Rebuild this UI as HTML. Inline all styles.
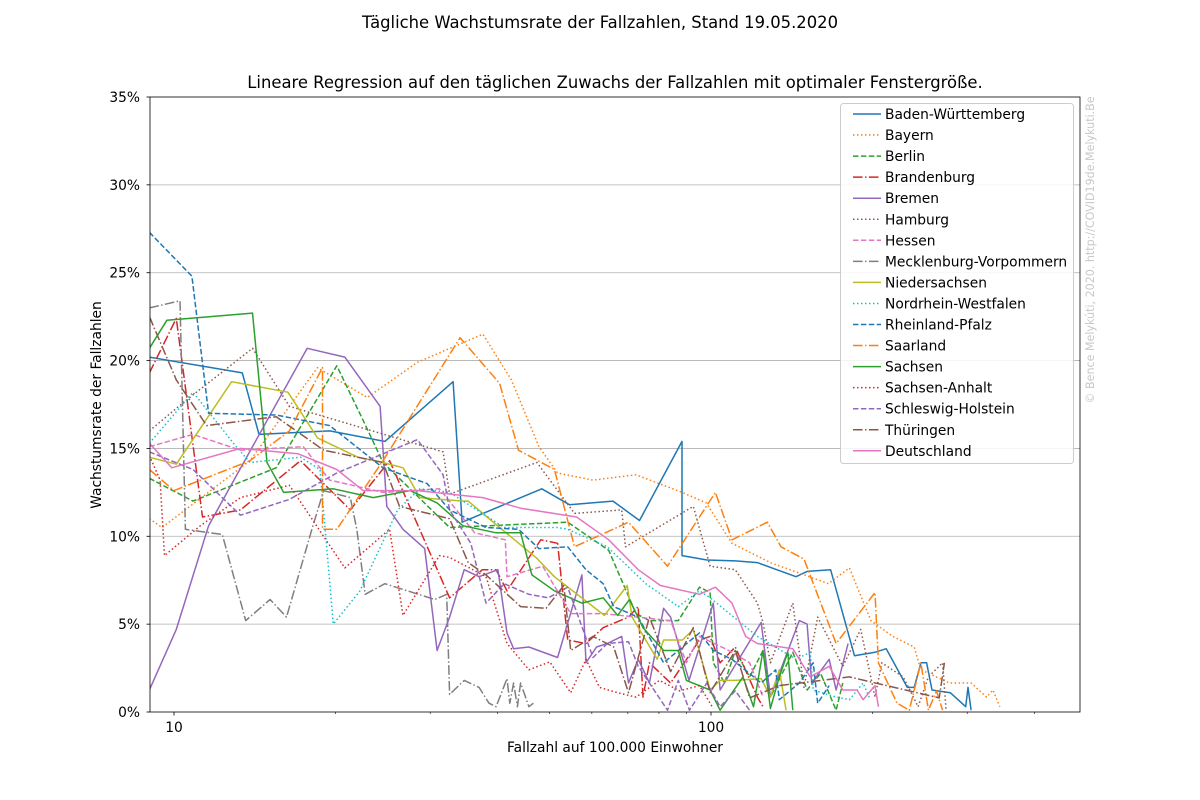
<!DOCTYPE html>
<html><head><meta charset="utf-8"><style>
body{margin:0;background:#fff;}
svg{display:block;font-family:"DejaVu Sans","Liberation Sans",sans-serif;}
</style></head><body>
<svg id="chart" width="1200" height="800" viewBox="0 0 1200 800" xmlns="http://www.w3.org/2000/svg">
<rect width="1200" height="800" fill="#fff"/>
<text x="600" y="28" font-size="16.4" text-anchor="middle">Tägliche Wachstumsrate der Fallzahlen, Stand 19.05.2020</text>
<text x="615" y="88" font-size="16.4" text-anchor="middle">Lineare Regression auf den täglichen Zuwachs der Fallzahlen mit optimaler Fenstergröße.</text>
<text x="615" y="752" font-size="13.8" text-anchor="middle">Fallzahl auf 100.000 Einwohner</text>
<text transform="translate(101,405) rotate(-90)" font-size="13.8" text-anchor="middle">Wachstumsrate der Fallzahlen</text>
<text transform="translate(1094,250) rotate(-90)" font-size="11.1" fill="#c8c8c8" text-anchor="middle">© Bence Melykúti, 2020. http://COVID19de.Melykuti.Be</text>
<defs><clipPath id="pc"><rect x="150" y="97" width="930" height="615"/></clipPath></defs>
<g id="grid"></g><g id="series" clip-path="url(#pc)"></g><g id="axes"></g><g id="legend"></g>
</svg>
<script>
const yTicks=[0,5,10,15,20,25,30,35];
const xMajor=[10,100];
const xMinor=[20,30,40,50,60,70,80,90,200,300,400];
const names=["Baden-Württemberg","Bayern","Berlin","Brandenburg","Bremen","Hamburg","Hessen","Mecklenburg-Vorpommern","Niedersachsen","Nordrhein-Westfalen","Rheinland-Pfalz","Saarland","Sachsen","Sachsen-Anhalt","Schleswig-Holstein","Thüringen","Deutschland"];
const sBW=[[9.0,20.2],[13.4,19.3],[14.4,15.8],[19.5,16.0],[24.7,15.4],[33.1,18.8],[34.4,10.8],[48.4,12.7],[54.5,11.8],[65.7,12.0],[73.6,10.9],[88.3,15.4],[88.3,8.9],[98.3,8.65],[111,8.6],[122,8.5],[144,7.7],[151,8.0],[167,8.1],[185,3.2],[202,3.4],[212,3.6],[232,1.4],[239,1.4],[246,2.8],[252,2.8],[258,1.25],[279,1.1],[298,0.3],[301,1.4],[305,0.1]];
const sBY=[[9.0,11.0],[9.5,10.5],[13.85,14.3],[18.5,19.6],[22.9,17.9],[28.4,19.9],[37.6,21.5],[42.5,18.9],[47.8,15.1],[51.8,13.6],[60.3,13.2],[72.5,13.5],[88.4,12.5],[98,11.9],[109.4,9.6],[129,8.5],[165.5,7.3],[181,8.2],[198.5,5.2],[218,4.3],[239,3.7],[246,2.4],[278,1.65],[305,1.65],[326,0.85],[335,1.25],[345,0.3]];
const sBE=[[9.0,13.3],[10.85,12.0],[15.5,13.9],[20.1,19.7],[22.5,16.6],[24.5,14.2],[32.6,10.5],[54.1,10.8],[64.5,9.2],[72.5,5.6],[76.8,5.2],[86.9,5.2],[95.2,7.1],[99.6,6.8],[101,2.8],[106,1.65],[111,3.5],[118,2.0],[125,3.5],[129,0.85],[142,3.4],[151,1.25],[160,2.2],[171,0.1],[176,1.65]];
const sBB=[[9.0,19.3],[10.1,22.4],[11.3,11.1],[13.3,11.5],[17.2,14.3],[21.3,11.5],[25.2,14.3],[32.6,6.5],[37.5,8.1],[39.8,8.1],[41.7,6.9],[48.2,9.8],[51.8,9.6],[54.1,4.1],[58.5,3.9],[63.0,4.8],[70.2,5.4],[73.2,6.0],[74.7,0.85],[76.8,2.8],[84.1,1.65],[95.2,4.1],[99.6,4.3],[104,2.8],[111,3.7],[122,0.85],[125,0.3]];
const sHB=[[9.0,1.25],[10.1,4.7],[11.6,10.6],[17.7,20.7],[20.8,20.2],[24.2,17.4],[24.9,11.7],[26.7,10.4],[29.3,9.3],[30.9,3.5],[32.6,5.4],[34.7,8.1],[37,7.7],[40.1,8.1],[41.7,4.5],[42.9,3.6],[45.8,3.7],[51.8,3.1],[57.5,7.8],[58.5,2.8],[61.2,3.7],[64.1,3.9],[68.2,4.3],[70.2,1.65],[73.2,3.0],[76.8,1.65],[81.6,5.9],[84.1,5.4],[91.0,1.8],[101,6.2],[104,1.25],[124,5.1],[129,0.85],[146,5.2],[151,5.0],[154,1.65],[166,3.0],[171,1.25],[180,3.9]];
const sHH=[[9.0,16.0],[10.4,17.6],[14.0,20.7],[16.4,17.4],[31.7,14.8],[32.6,12.4],[47.4,14.2],[55.7,11.3],[68.2,11.5],[69.3,9.4],[92.7,11.7],[99.6,8.3],[111,8.1],[122,6.2],[125,5.1],[129,2.8],[142,6.2],[149,1.4],[158,5.4],[176,2.6],[190,4.7],[202,0.85],[208,2.8],[228,2.0],[243,0.3],[254,2.0],[270,2.8],[274,0.1]];
const sHE=[[9.0,15.1],[10.85,15.8],[13.3,14.9],[17.4,15.1],[19.5,13.2],[24.5,12.5],[31.2,12.7],[36.3,10.2],[41.4,9.8],[41.7,7.7],[48.6,8.3],[54.8,5.6],[63.0,5.6],[84.1,5.2],[90,2.8],[95.2,4.3],[108,3.5],[118,2.8],[125,0.85]];
const sMV=[[9.0,23.0],[10.26,23.4],[10.5,10.4],[12.3,10.1],[13.6,5.2],[15.1,6.4],[16.2,5.4],[18.1,10.5],[19.0,12.6],[21.3,12.2],[21.9,10.4],[22.7,6.7],[24.7,7.3],[30.6,6.4],[32.2,6.7],[32.6,1.0],[34.7,1.8],[37,1.4],[38.6,0.5],[39.8,0.3],[41.7,1.9],[42.2,0.5],[42.9,1.65],[43.6,0.3],[44.2,1.65],[45.8,0.3],[46.7,0.5]];
const sNI=[[9.0,14.5],[10.1,14.1],[12.8,18.8],[16.3,18.2],[18.5,15.6],[22.0,14.5],[24.5,14.2],[26.7,13.9],[28.7,12.2],[34.5,12.0],[35.3,12.0],[40.4,10.5],[47.2,8.8],[51.1,7.7],[63.3,5.5],[69.8,7.2],[71.3,5.4],[79.4,3.0],[81.6,4.1],[88.5,4.1],[92.7,4.7],[99.6,1.25],[104,1.8],[111,1.8],[124,1.9],[129,0.85],[134,2.4],[138,0.1]];
const sNW=[[9.0,15.3],[10.85,18.2],[12.9,15.3],[13.85,14.2],[17.2,14.5],[18.7,13.8],[19.8,5.0],[22.2,6.9],[26.1,11.5],[28.7,12.7],[32.6,12.5],[41.2,10.5],[51.8,10.5],[54.1,10.4],[64.1,9.4],[75.6,7.3],[86.9,6.0],[95.2,6.9],[99.6,6.5],[122,4.3],[144,3.0],[153,3.4],[155,1.25],[171,0.85],[181,0.7],[192,1.65],[198,0.7]];
const sRP=[[9.0,27.3],[10.8,24.8],[11.6,17.0],[15.5,16.9],[19.5,16.3],[24.5,13.9],[29.6,13.0],[32.6,11.5],[38.1,10.5],[43.8,10.4],[47.8,9.3],[54.1,9.4],[58.5,8.1],[63.0,7.3],[65.9,6.0],[73.2,5.4],[81.6,2.8],[95.2,4.5],[101,3.5],[109.4,3.0],[124,1.65],[132,2.4],[134,0.7],[146,1.65],[155,2.8],[158,0.5],[166,1.5]];
const sSL=[[9.0,13.8],[10,12.6],[13.85,14.3],[16.4,16.0],[18.9,19.6],[18.9,10.4],[20.1,10.4],[24.5,14.3],[34.1,21.3],[40.4,18.7],[43.8,14.9],[51.1,13.8],[55.7,9.4],[70.2,10.8],[83.0,8.3],[101.9,12.5],[109.4,9.8],[127.3,10.8],[135,9.4],[149,8.7],[171,3.9],[202,6.8],[205,2.8],[222,0.5],[234,0.1],[246,2.8],[254,0.1],[263,1.2],[270,0.1]];
const sSN=[[9.0,20.7],[9.7,22.3],[14.0,22.7],[14.9,14.2],[16.0,12.5],[19.8,12.7],[23.5,12.2],[27.5,12.6],[30.9,11.9],[34.5,10.6],[39.8,10.2],[44.2,10.2],[46.4,7.8],[51.1,6.9],[57.5,6.2],[63.0,6.5],[67.0,5.5],[70.5,6.4],[74.7,4.8],[81.6,3.5],[86.9,3.5],[90,1.8],[99.6,1.25],[104,0.1],[114.7,2.0],[120,0.3],[125,3.5],[129,0.2],[134,2.0],[139,3.4],[142,0.1]];
const sST=[[9.0,14.6],[9.42,13.2],[9.6,8.9],[11.2,10.6],[13.3,12.2],[16.4,12.9],[20.8,8.2],[25.2,10.4],[26.7,5.5],[31.2,8.9],[32.6,8.8],[38.1,7.7],[41.7,3.9],[45.8,2.4],[50.1,2.85],[54.8,1.1],[58.5,3.0],[62.0,1.4],[67.0,1.1],[72.5,0.85],[80.2,1.8],[87.4,1.2],[95.2,1.5],[101,0.2]];
const sSH=[[9.0,14.8],[10.85,13.8],[13.3,11.2],[16.4,12.1],[20.1,13.6],[28.4,15.5],[31.7,13.5],[32.6,11.5],[35.7,9.6],[38.1,6.2],[41.2,7.3],[45.8,6.7],[49.8,6.5],[54.1,7.1],[60.3,3.1],[64.1,3.9],[70.2,4.0],[73.2,2.6],[83.0,0.1],[86.9,1.8],[91.2,0.1],[98.2,1.65],[104,0.3],[111,1.2],[118,0.1]];
const sTH=[[9.0,22.5],[10.1,18.9],[11.5,16.3],[14.5,16.7],[15.5,16.8],[19.0,14.9],[24.5,14.2],[26.3,11.7],[32.6,11.0],[35.3,8.5],[38.1,7.8],[44.2,6.0],[49.3,5.9],[53.2,7.2],[54.8,3.5],[60.3,4.3],[65.9,3.7],[70.2,1.1],[76.8,5.4],[84.1,2.3],[92.7,4.8],[99.6,1.1],[111,3.5],[118,0.8],[134,1.5],[181,2.0],[266,0.8],[272,2.8]];
const sDE=[[9.0,15.3],[9.9,13.9],[13.3,15.0],[17.0,14.7],[20.1,13.8],[22.5,12.6],[28.4,12.6],[37.6,12.2],[44.2,11.6],[56.2,11.1],[64.5,9.8],[73.2,8.1],[80.5,7.2],[95.2,6.7],[101.9,7.1],[109.4,6.2],[116,4.3],[122,3.9],[142,3.6],[153,2.0],[166,2.6],[176,1.25],[187,1.25],[192,0.7],[202,1.5],[205,0.3]];
const allSeries=[sBW,sBY,sBE,sBB,sHB,sHH,sHE,sMV,sNI,sNW,sRP,sSL,sSN,sST,sSH,sTH,sDE];

const colors=["#1f77b4","#ff7f0e","#2ca02c","#d62728","#9467bd","#8c564b","#e377c2","#7f7f7f","#bcbd22","#17becf","#1f77b4","#ff7f0e","#2ca02c","#d62728","#9467bd","#8c564b","#e377c2"];
const dashes={solid:"",dot:"1.5,2.5",dash:"5.5,2.4",dashdot:"9.6,2.4,1.5,2.4"};
const styles=["solid","dot","dash","dashdot","solid","dot","dash","dashdot","solid","dot","dash","dashdot","solid","dot","dash","dashdot","solid"];
const NS="http://www.w3.org/2000/svg";
const X0=150,X1=1080,Y0=712,Y1=97;
const xDec=537, xRef=174;
function xs(v){return xRef+(Math.log10(v)-1)*xDec;}
function ys(v){return Y0-(v-0)/35*(Y0-Y1);}
function mk(tag,attrs,parent){const e=document.createElementNS(NS,tag);for(const k in attrs)e.setAttribute(k,attrs[k]);parent.appendChild(e);return e;}
const grid=document.getElementById('grid'),axes=document.getElementById('axes'),ser=document.getElementById('series'),leg=document.getElementById('legend');
yTicks.forEach(t=>{
  const y=ys(t);
  if(t>0&&t<35){const g=mk('line',{x1:X0,x2:X1,y1:y,y2:y,stroke:'#b0b0b0','stroke-width':0.8},grid);
  
  }
  const tk=mk('line',{x1:X0-3.5,x2:X0,y1:y,y2:y,stroke:'#000','stroke-width':0.8},axes);
  
  
  const lb=mk('text',{x:X0-10,y:y+5,'font-size':13.8,'text-anchor':'end'},axes);
  lb.textContent=t+'%';
  
  
});
xMajor.forEach(t=>{
  const x=xs(t);
  const tk=mk('line',{x1:x,x2:x,y1:Y0,y2:Y0+3.5,stroke:'#000','stroke-width':0.8},axes);
  
  
  const lb=mk('text',{x:x,y:Y0+20,'font-size':13.8,'text-anchor':'middle'},axes);
  lb.textContent=t;
  
  
});
xMinor.forEach(t=>{
  const x=xs(t);
  const tk=mk('line',{x1:x,x2:x,y1:Y0,y2:Y0+2,stroke:'#000','stroke-width':0.6},axes);
  
  
});
allSeries.forEach((s,i)=>{
  const d=s.map((p,j)=>(j?'L':'M')+xs(p[0]).toFixed(1)+','+ys(p[1]).toFixed(1)).join('');
  const p=mk('path',{d:d,fill:'none',stroke:colors[i],'stroke-width':1.5,'stroke-dasharray':dashes[styles[i]],'stroke-linejoin':'round'},ser);
  
  
});
const frame=mk('rect',{x:X0,y:Y1,width:X1-X0,height:Y0-Y1,fill:'none',stroke:'#000','stroke-width':0.8},axes);


const lbox=mk('rect',{x:840.5,y:103.5,width:233,height:360,rx:3,fill:'#fff','fill-opacity':0.85,stroke:'#cccccc','stroke-width':1},leg);


names.forEach((n,i)=>{
  const y=114+i*21.05;
  const ln=mk('line',{x1:853,x2:881,y1:y,y2:y,stroke:colors[i],'stroke-width':1.5,'stroke-dasharray':dashes[styles[i]]},leg);
  
  
  const tx=mk('text',{x:885,y:y+5,'font-size':13.8},leg);
  tx.textContent=n;
  
  
});
</script>
</body></html>
